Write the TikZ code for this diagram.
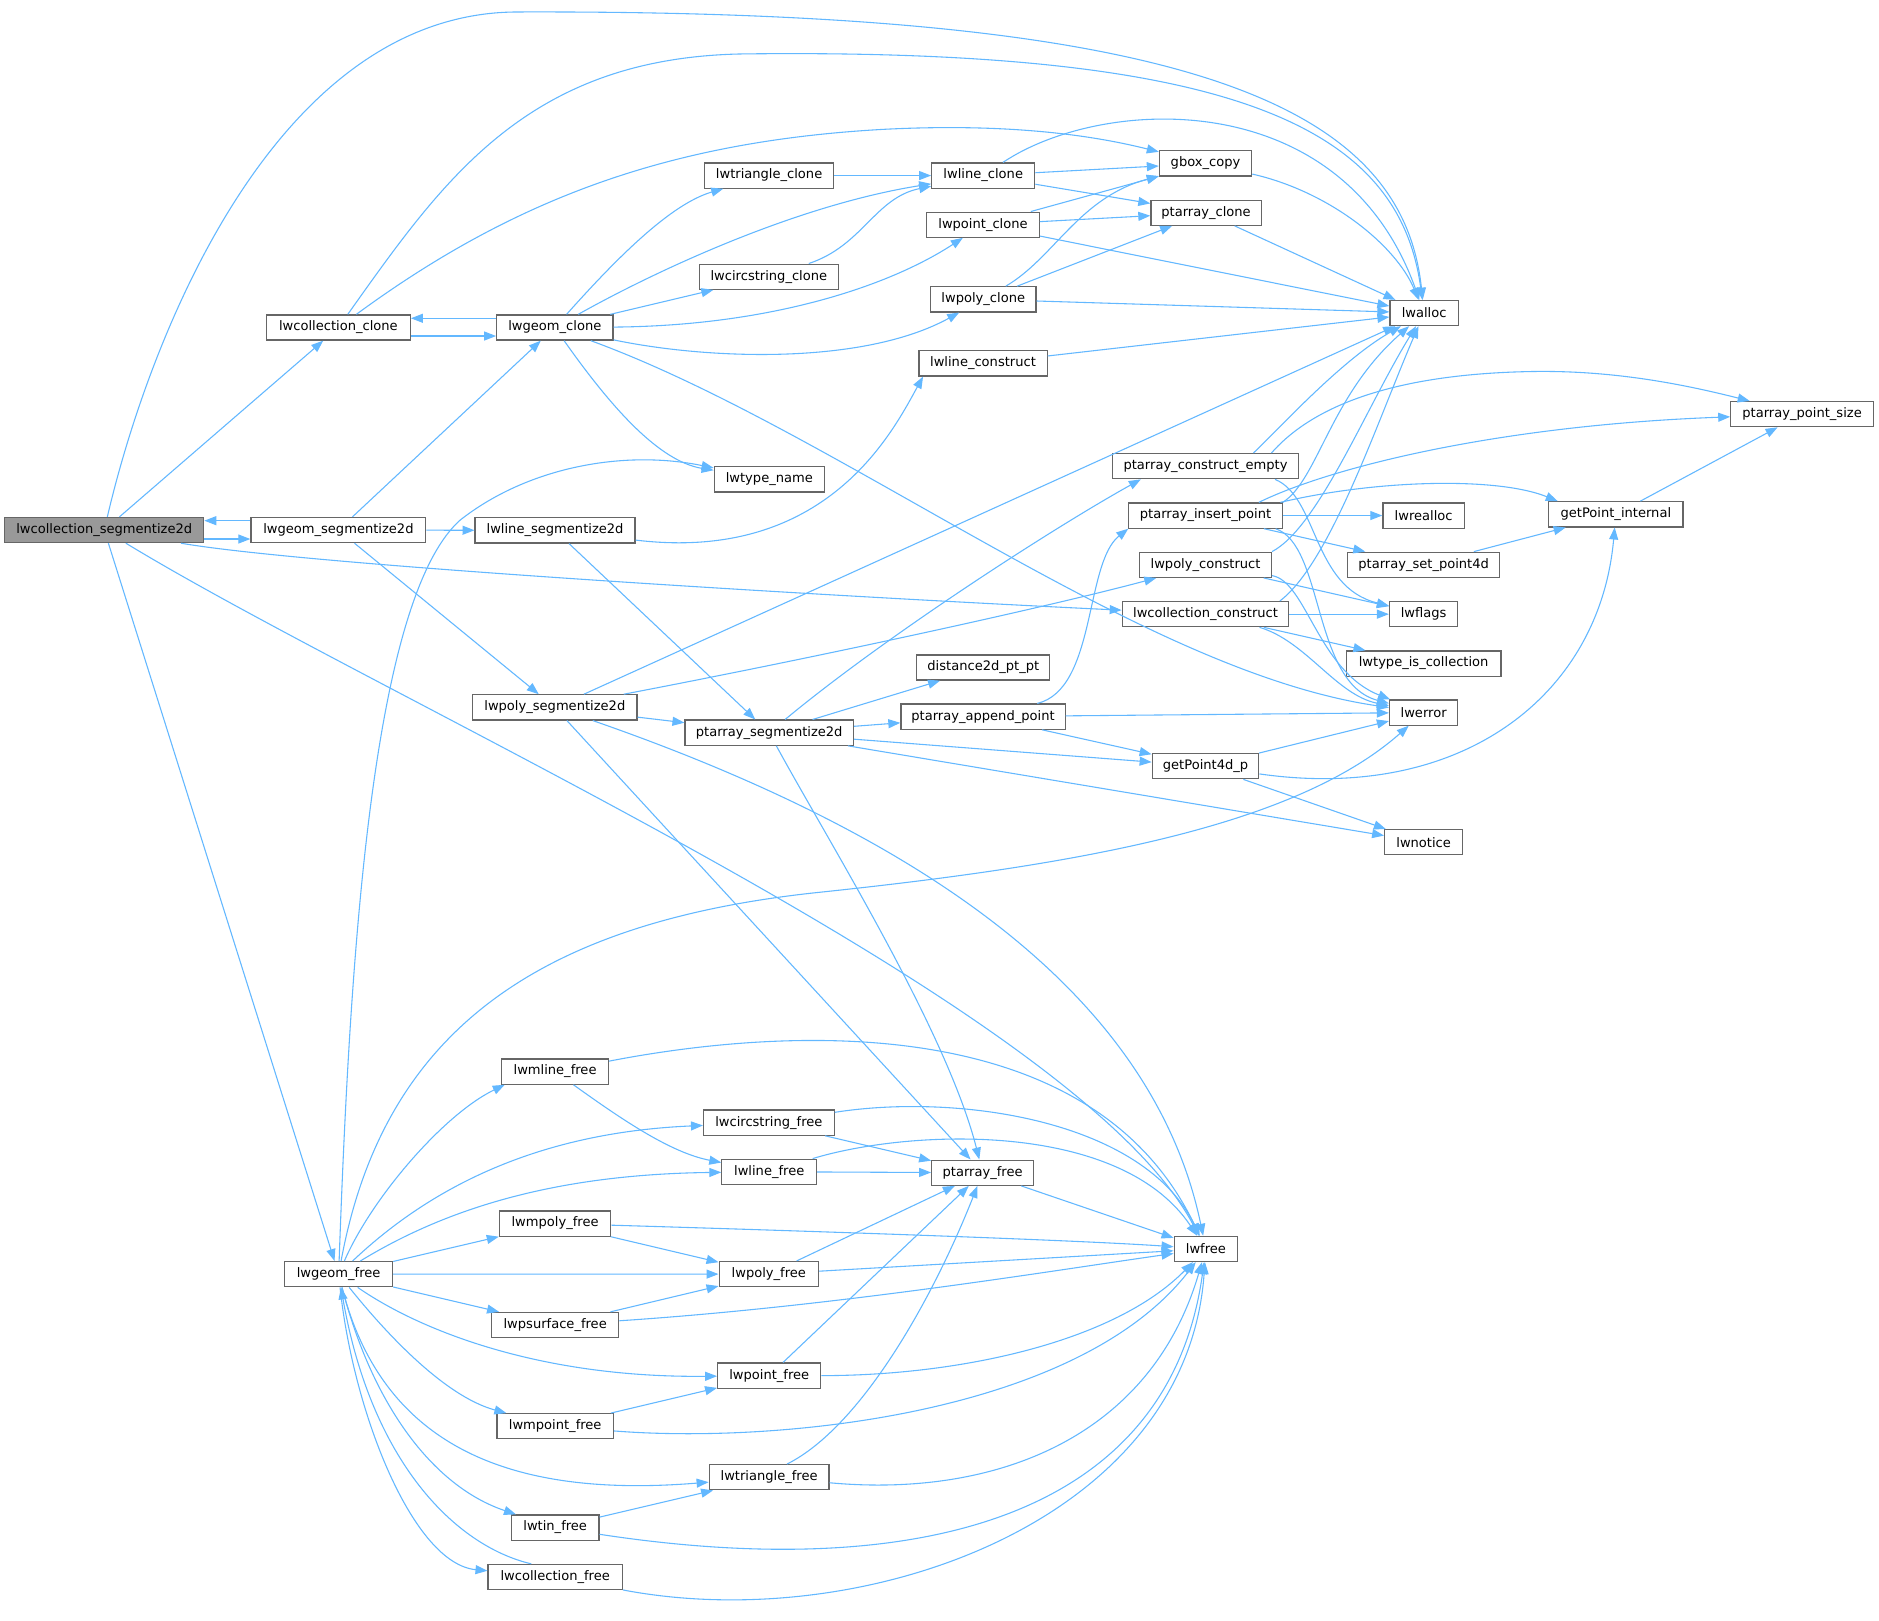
\documentclass[tikz,border=0pt]{standalone}
\usepackage{fontspec}
\setmainfont{DejaVu Sans}
\usetikzlibrary{arrows.meta,calc}
\definecolor{edgeblue}{HTML}{63B8FF}
\definecolor{boxborder}{HTML}{666666}
\definecolor{rootfill}{HTML}{999999}
\begin{document}
\begin{tikzpicture}[x=1pt,y=-1pt,
  box/.style={draw=boxborder, line width=1pt, fill=white, minimum height=21pt,
    inner xsep=2pt, inner ysep=0pt, text=black, font=\fontsize{10.9}{13}\selectfont},
  rootbox/.style={box, fill=rootfill},
  edge/.style={draw=edgeblue, line width=0.9pt, -{Triangle[length=10pt,width=7.5pt]}}]
\useasboundingbox[fill=white] (0,0) rectangle (1568,1352);

% nodes
\node[rootbox, minimum width=166pt] (seg) at (87,442.3) {lwcollection\_segmentize2d};
\node[box, minimum width=146pt] (gseg) at (282.4,442.3) {lwgeom\_segmentize2d};
\node[box, minimum width=120pt] (cclone) at (282.4,273.3) {lwcollection\_clone};
\node[box, minimum width=97pt] (gclone) at (463,273.3) {lwgeom\_clone};
\node[box, minimum width=108pt] (triclone) at (641.8,146.5) {lwtriangle\_clone};
\node[box, minimum width=86pt] (lineclone) at (820.5,146.5) {lwline\_clone};
\node[box, minimum width=94pt] (ptclone) at (820.3,187.5) {lwpoint\_clone};
\node[box, minimum width=116pt] (circclone) at (641.6,230.9) {lwcircstring\_clone};
\node[box, minimum width=88pt] (polyclone) at (820.5,249.8) {lwpoly\_clone};
\node[box, minimum width=107pt] (lineconstruct) at (820.3,303.2) {lwline\_construct};
\node[box, minimum width=77pt] (gbox) at (1006,136.4) {gbox\_copy};
\node[box, minimum width=92pt] (paclone) at (1006.4,177.5) {ptarray\_clone};
\node[box, minimum width=57pt] (lwalloc) at (1188.4,261.2) {lwalloc};
\node[box, minimum width=92pt] (typename) at (642,400) {lwtype\_name};
\node[box, minimum width=133.5pt] (lineseg) at (463.2,442.6) {lwline\_segmentize2d};
\node[box, minimum width=137pt] (polyseg) at (463,590.3) {lwpoly\_segmentize2d};
\node[box, minimum width=140.5pt] (paseg) at (641.9,611.4) {ptarray\_segmentize2d};
\node[box, minimum width=155pt] (paempty) at (1006,389) {ptarray\_construct\_empty};
\node[box, minimum width=128pt] (painsert) at (1006,430.2) {ptarray\_insert\_point};
\node[box, minimum width=68pt] (lwrealloc) at (1188,430.2) {lwrealloc};
\node[box, minimum width=112pt] (getpointinternal) at (1348.4,429.2) {getPoint\_internal};
\node[box, minimum width=127pt] (setpoint4d) at (1188,471.3) {ptarray\_set\_point4d};
\node[box, minimum width=110pt] (polyconstruct) at (1006,471.3) {lwpoly\_construct};
\node[box, minimum width=57pt] (lwflags) at (1188,512.5) {lwflags};
\node[box, minimum width=139pt] (collconstruct) at (1006,512.5) {lwcollection\_construct};
\node[box, minimum width=129pt] (typeiscoll) at (1188,553.7) {lwtype\_is\_collection};
\node[box, minimum width=57pt] (lwerror) at (1188,594.6) {lwerror};
\node[box, minimum width=89pt] (getpoint4d) at (1006,639.4) {getPoint4d\_p};
\node[box, minimum width=65pt] (lwnotice) at (1188,702.8) {lwnotice};
\node[box, minimum width=111pt] (distance) at (820.6,557) {distance2d\_pt\_pt};
\node[box, minimum width=137pt] (append) at (820.3,598) {ptarray\_append\_point};
\node[box, minimum width=119pt] (pointsize) at (1503.8,345.6) {ptarray\_point\_size};
\node[box, minimum width=90pt] (gfree) at (282.6,1063.3) {lwgeom\_free};
\node[box, minimum width=89pt] (mlinefree) at (463.2,894.2) {lwmline\_free};
\node[box, minimum width=109pt] (circfree) at (641.6,936.8) {lwcircstring\_free};
\node[box, minimum width=79pt] (linefree) at (641.9,977.8) {lwline\_free};
\node[box, minimum width=85pt] (pafree) at (820,978.6) {ptarray\_free};
\node[box, minimum width=93pt] (mpolyfree) at (463.2,1021) {lwmpoly\_free};
\node[box, minimum width=83pt] (polyfree) at (641.6,1063.2) {lwpoly\_free};
\node[box, minimum width=53pt] (lwfree) at (1006.3,1042.2) {lwfree};
\node[box, minimum width=106pt] (psurffree) at (463.3,1105.7) {lwpsurface\_free};
\node[box, minimum width=86pt] (pointfree) at (641.9,1147.9) {lwpoint\_free};
\node[box, minimum width=97pt] (mpointfree) at (463.3,1190.2) {lwmpoint\_free};
\node[box, minimum width=100pt] (trifree) at (641.8,1232.7) {lwtriangle\_free};
\node[box, minimum width=73pt] (tinfree) at (463.3,1274.7) {lwtin\_free};
\node[box, minimum width=112pt] (collfree) at (463.3,1316) {lwcollection\_free};

% edges from lwcollection_segmentize2d
\draw[edge] (seg) .. controls (125,280) and (230,12) .. (430,10) .. controls (1000,8) and (1170,90) .. (lwalloc);
\draw[edge] (seg) -- (cclone);
\draw[edge] ($(seg.east)+(0,7.5)$) -- ($(gseg.west)+(0,7.5)$);
\draw[edge] (seg) .. controls (260,472) and (700,498) .. (collconstruct);
\draw[edge] (seg) .. controls (330,590) and (900,840) .. (lwfree);
\draw[edge] (seg) -- (gfree);

% lwgeom_segmentize2d
\draw[edge] ($(gseg.west)+(0,-7.8)$) -- ($(seg.east)+(0,-7.8)$);
\draw[edge] (gseg) -- (gclone);
\draw[edge] (gseg) -- (lineseg);
\draw[edge] (gseg) -- (polyseg);

% lwcollection_clone
\draw[edge] ($(cclone.east)+(0,7.1)$) -- ($(gclone.west)+(0,7.1)$);
\draw[edge] (cclone) .. controls (430,165) and (560,118) .. (736,108) .. controls (850,102) and (920,115) .. (gbox);
\draw[edge] (cclone) .. controls (370,150) and (440,48) .. (620,45) .. controls (1040,40) and (1168,110) .. (lwalloc);

% lwgeom_clone
\draw[edge] ($(gclone.west)+(0,-7.7)$) -- ($(cclone.east)+(0,-7.7)$);
\draw[edge] (gclone) .. controls (515,215) and (560,170) .. (triclone);
\draw[edge] (gclone) .. controls (540,230) and (660,172) .. (lineclone);
\draw[edge] (gclone) -- (circclone);
\draw[edge] (gclone) .. controls (640,272) and (740,240) .. (ptclone);
\draw[edge] (gclone) .. controls (590,300) and (720,305) .. (polyclone);
\draw[edge] (gclone) .. controls (510,340) and (550,385) .. (typename);
\draw[edge] (gclone) .. controls (700,360) and (950,560) .. (lwerror);

% clones
\draw[edge] (triclone) -- (lineclone);
\draw[edge] (circclone) .. controls (720,205) and (730,165) .. (lineclone);
\draw[edge] (lineclone) -- (gbox);
\draw[edge] (lineclone) -- (paclone);
\draw[edge] (lineclone) .. controls (920,80) and (1120,70) .. (lwalloc);
\draw[edge] (ptclone) -- (gbox);
\draw[edge] (ptclone) -- (paclone);
\draw[edge] (ptclone) -- (lwalloc);
\draw[edge] (polyclone) .. controls (880,215) and (900,165) .. (gbox);
\draw[edge] (polyclone) -- (paclone);
\draw[edge] (polyclone) -- (lwalloc);
\draw[edge] (gbox) .. controls (1110,160) and (1165,205) .. (lwalloc);
\draw[edge] (paclone) -- (lwalloc);
\draw[edge] (lineconstruct) -- (lwalloc);

% segmentize
\draw[edge] (lineseg) .. controls (690,470) and (745,360) .. ([xshift=4pt]lineconstruct.south west);
\draw[edge] (lineseg) -- (paseg);
\draw[edge] (polyseg) -- (lwalloc);
\draw[edge] (polyseg) .. controls (700,545) and (880,505) .. (polyconstruct);
\draw[edge] (polyseg) -- (paseg);
\draw[edge] (polyseg) -- (pafree);
\draw[edge] (polyseg) .. controls (750,690) and (960,820) .. (lwfree);
\draw[edge] (paseg) .. controls (740,530) and (880,440) .. ([xshift=24pt]paempty.south west);
\draw[edge] (paseg) -- (distance);
\draw[edge] (paseg) -- (append);
\draw[edge] (paseg) -- (getpoint4d);
\draw[edge] (paseg) -- (lwnotice);
\draw[edge] (paseg) .. controls (690,700) and (790,860) .. (pafree);

% ptarray helpers
\draw[edge] (append) .. controls (915,575) and (905,470) .. (painsert.south west);
\draw[edge] (append) -- (lwerror);
\draw[edge] (append) -- (getpoint4d);
\draw[edge] ([xshift=40pt]paempty.north) .. controls (1070,355) and (1120,300) .. (lwalloc);
\draw[edge] ([xshift=55pt]paempty.north) .. controls (1090,345) and (1150,312) .. (1280,310) .. controls (1350,309) and (1410,322) .. (pointsize);
\draw[edge] ([xshift=-20pt]paempty.south east) .. controls (1100,415) and (1095,490) .. (lwflags);
\draw[edge] ([xshift=-20pt]painsert.north east) .. controls (1110,390) and (1250,355) .. (pointsize);
\draw[edge] ([xshift=-2pt]painsert.north east) .. controls (1150,400) and (1250,398) .. ([xshift=8pt]getpointinternal.north west);
\draw[edge] (painsert) -- (lwrealloc);
\draw[edge] (painsert) -- (setpoint4d);
\draw[edge] (painsert.north east) .. controls (1100,400) and (1110,330) .. (lwalloc);
\draw[edge] ([xshift=-6pt]painsert.south east) .. controls (1105,455) and (1095,570) .. (lwerror);
\draw[edge] (polyconstruct.north east) .. controls (1100,440) and (1140,340) .. (lwalloc);
\draw[edge] (polyconstruct) -- (lwflags);
\draw[edge] (polyconstruct) .. controls (1090,485) and (1100,560) .. (lwerror);
\draw[edge] ([xshift=-8pt]collconstruct.north east) .. controls (1110,470) and (1150,350) .. (lwalloc);
\draw[edge] (collconstruct) -- (lwflags);
\draw[edge] (collconstruct) -- (typeiscoll);
\draw[edge] ([xshift=-25pt]collconstruct.south east) .. controls (1090,535) and (1115,580) .. (lwerror);
\draw[edge] (getpoint4d) -- (lwerror);
\draw[edge] (getpoint4d) .. controls (1220,670) and (1335,580) .. (getpointinternal);
\draw[edge] (getpoint4d) -- (lwnotice);
\draw[edge] (getpointinternal) -- (pointsize);
\draw[edge] (setpoint4d) -- (getpointinternal);

% lwgeom_free
\draw[edge] (gfree) .. controls (292,800) and (310,500) .. (384,434) .. controls (440,390) and (520,375) .. (typename);
\draw[edge] (gfree) .. controls (320,860) and (450,770) .. (680,745) .. controls (900,722) and (1080,690) .. (lwerror);
\draw[edge] (gfree) .. controls (310,1000) and (370,930) .. ([xshift=3pt]mlinefree.south west);
\draw[edge] (gfree) .. controls (360,990) and (450,945) .. (circfree);
\draw[edge] (gfree) .. controls (370,1010) and (460,980) .. (linefree);
\draw[edge] (gfree) -- (mpolyfree);
\draw[edge] (gfree) -- (polyfree);
\draw[edge] (gfree) -- (psurffree);
\draw[edge] (gfree) .. controls (350,1110) and (450,1150) .. (pointfree);
\draw[edge] (gfree) .. controls (320,1110) and (370,1165) .. (mpointfree);
\draw[edge] (gfree) .. controls (320,1210) and (430,1250) .. (trifree);
\draw[edge] (gfree) .. controls (310,1170) and (360,1240) .. (tinfree);
\draw[edge] (gfree) .. controls (295,1180) and (345,1305) .. (collfree);
\draw[edge] ([xshift=-20pt]collfree.north) .. controls (380,1290) and (310,1220) .. (gfree);

% free functions
\draw[edge] (mlinefree) .. controls (520,935) and (560,962) .. (linefree);
\draw[edge] (mlinefree) .. controls (650,858) and (910,840) .. (lwfree);
\draw[edge] (circfree) -- (pafree);
\draw[edge] (circfree) .. controls (800,912) and (955,935) .. (lwfree);
\draw[edge] (linefree) -- (pafree);
\draw[edge] (linefree) .. controls (760,942) and (935,935) .. (lwfree);
\draw[edge] (mpolyfree) -- (polyfree);
\draw[edge] (mpolyfree) .. controls (700,1028) and (900,1035) .. (lwfree);
\draw[edge] (polyfree) -- (pafree);
\draw[edge] (polyfree) -- (lwfree);
\draw[edge] (psurffree) -- (polyfree);
\draw[edge] (psurffree) .. controls (700,1090) and (880,1060) .. (lwfree);
\draw[edge] (pointfree) -- (pafree);
\draw[edge] (pointfree) .. controls (800,1148) and (930,1120) .. (lwfree);
\draw[edge] (mpointfree) -- (pointfree);
\draw[edge] (mpointfree) .. controls (650,1205) and (900,1180) .. (lwfree);
\draw[edge] ([xshift=15pt]trifree.north) .. controls (720,1190) and (780,1080) .. (pafree);
\draw[edge] (trifree) .. controls (830,1250) and (960,1200) .. (lwfree);
\draw[edge] (tinfree) -- (trifree);
\draw[edge] (tinfree) .. controls (760,1320) and (975,1270) .. (lwfree);
\draw[edge] (collfree) .. controls (720,1365) and (990,1270) .. (lwfree);
\draw[edge] (pafree) -- (lwfree);
\end{tikzpicture}
\end{document}
